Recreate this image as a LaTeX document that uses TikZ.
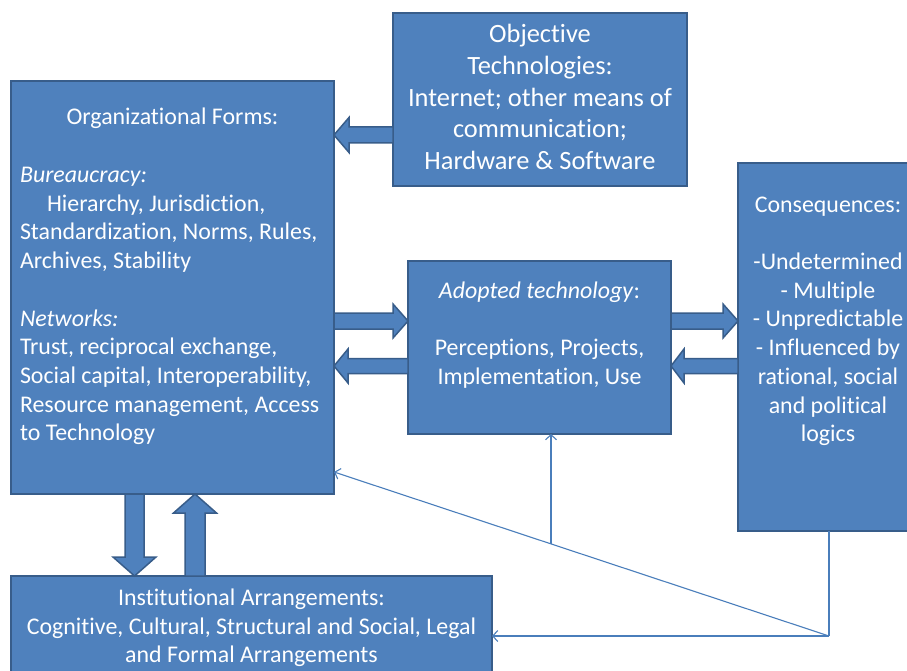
\documentclass[tikz,border=0pt]{standalone}
\usepackage{fontspec}
\setmainfont{Carlito}[Ligatures=NoCommon]
\usetikzlibrary{calc,arrows.meta}
\definecolor{boxfill}{HTML}{4F81BD}
\definecolor{boxline}{HTML}{385D8A}
\definecolor{thinline}{HTML}{4A7EBB}
\tikzset{
  box/.style={draw=boxline, fill=boxfill, line width=1.8bp, anchor=north west, inner sep=0pt, outer sep=0pt},
  txt/.style={text=white, inner sep=0pt, outer sep=0pt, font=\fontsize{23.9bp}{28.7bp}\selectfont},
  bigtxt/.style={text=white, inner sep=0pt, outer sep=0pt, font=\fontsize{26.4bp}{31.7bp}\selectfont},
  blk/.style={draw=boxline, fill=boxfill, line width=1.5bp, line join=miter},
  thin/.style={draw=thinline, line width=1.1bp},
  tip/.style={-{Straight Barb[length=5bp,width=11bp]}}
}
\newcommand\blkarrow[5]{%
  \coordinate (hb) at ($(#2)!#5!(#1)$);
  \draw[blk] ($(#1)!#3!90:(#2)$) -- ($(hb)!#3!90:(#2)$) -- ($(hb)!#4!90:(#2)$) -- (#2)
    -- ($(hb)!#4!-90:(#2)$) -- ($(hb)!#3!-90:(#2)$) -- ($(#1)!#3!-90:(#2)$) -- cycle;
}
\begin{document}
\begin{tikzpicture}[x=1bp,y=-1bp]
\useasboundingbox (0,0) rectangle (907,671);
\clip (0,0) rectangle (907,671);
\fill[white] (0,0) rectangle (907,671);

% boxes
\node[box, minimum width=323bp, minimum height=413bp] (org) at (11,81) {};
\node[box, minimum width=294bp, minimum height=173bp] (obj) at (393,13) {};
\node[box, minimum width=263bp, minimum height=173bp] (adopt) at (408,261) {};
\node[box, minimum width=180bp, minimum height=368bp] (cons) at (738,163) {};
\node[box, minimum width=481bp, minimum height=120bp] (inst) at (11,576) {};

% Organizational Forms text
\node[txt, anchor=base] (orgT) at (172.5,124.2) {Organizational Forms:};
\node[txt, anchor=base west] (orgB1) at (20,182.5) {\textit{Bureaucracy:}};
\node[txt, anchor=base west] (orgB2) at (47,211.2) {Hierarchy, Jurisdiction,};
\node[txt, anchor=base west] (orgB3) at (20,239.9) {Standardization, Norms, Rules,};
\node[txt, anchor=base west] (orgB4) at (20,268.6) {Archives, Stability};
\node[txt, anchor=base west] (orgN1) at (20,326) {\textit{Networks:}};
\node[txt, anchor=base west] (orgN2) at (20,354.7) {Trust, reciprocal exchange,};
\node[txt, anchor=base west] (orgN3) at (20,383.4) {Social capital, Interoperability,};
\node[txt, anchor=base west] (orgN4) at (20,412.1) {Resource management, Access};
\node[txt, anchor=base west] (orgN5) at (20,440.8) {to Technology};

% Objective Technologies text
\node[bigtxt, anchor=base] (obj1) at (540,42.8) {Objective};
\node[bigtxt, anchor=base] (obj2) at (540,74.5) {Technologies:};
\node[bigtxt, anchor=base] (obj3) at (540,106.2) {Internet; other means of};
\node[bigtxt, anchor=base] (obj4) at (540,137.9) {communication;};
\node[bigtxt, anchor=base] (obj5) at (540,169.6) {Hardware \& Software};

% Adopted technology text
\node[txt, anchor=base] (ad1) at (539.5,298.2) {\textit{Adopted technology}:};
\node[txt, anchor=base] (ad2) at (539.5,355.6) {Perceptions, Projects,};
\node[txt, anchor=base] (ad3) at (539.5,384.3) {Implementation, Use};

% Consequences text
\node[txt, anchor=base] (co1) at (828,212.1) {Consequences:};
\node[txt, anchor=base] (co2) at (828,269.5) {-Undetermined};
\node[txt, anchor=base] (co3) at (828,298.2) {- Multiple};
\node[txt, anchor=base] (co4) at (828,326.9) {- Unpredictable};
\node[txt, anchor=base] (co5) at (828,355.6) {- Influenced by};
\node[txt, anchor=base] (co6) at (828,384.3) {rational, social};
\node[txt, anchor=base] (co7) at (828,413) {and political};
\node[txt, anchor=base] (co8) at (828,441.7) {logics};

% Institutional text
\node[txt, anchor=base] (in1) at (251.5,605.5) {Institutional Arrangements:};
\node[txt, anchor=base] (in2) at (251.5,634.2) {Cognitive, Cultural, Structural and Social, Legal};
\node[txt, anchor=base] (in3) at (251.5,662.5) {and Formal Arrangements};

% block arrows
\coordinate (a1s) at (obj.west |- 0,135);
\coordinate (a1e) at (org.east |- 0,135);
\blkarrow{a1s}{a1e}{8bp}{17.5bp}{15bp}
\coordinate (a2s) at (org.east |- 0,321);
\coordinate (a2e) at (adopt.west |- 0,321);
\blkarrow{a2s}{a2e}{8bp}{17bp}{15bp}
\coordinate (a3s) at (adopt.west |- 0,366);
\coordinate (a3e) at (org.east |- 0,366);
\blkarrow{a3s}{a3e}{7.5bp}{17bp}{14bp}
\coordinate (a4s) at (adopt.east |- 0,321);
\coordinate (a4e) at (cons.west |- 0,321);
\blkarrow{a4s}{a4e}{8bp}{17bp}{15bp}
\coordinate (a5s) at (cons.west |- 0,366);
\coordinate (a5e) at (adopt.east |- 0,366);
\blkarrow{a5s}{a5e}{7.5bp}{17bp}{13bp}
\coordinate (a6s) at (org.south -| 134.5,0);
\coordinate (a6e) at (inst.north -| 134.5,0);
\blkarrow{a6s}{a6e}{9.5bp}{21.5bp}{19bp}
\coordinate (a7s) at (inst.north -| 195,0);
\coordinate (a7e) at (org.south -| 195,0);
\blkarrow{a7s}{a7e}{10bp}{21.5bp}{19bp}

% thin feedback connectors
\coordinate (cb) at (cons.south -| 829,0);
\coordinate (corner) at (829,636);
\coordinate (orgpt) at (org.east |- 0,472);
\coordinate (instpt) at (inst.east |- corner);
\coordinate (mid) at ($(corner)!0.5616!(orgpt)$);
\draw[thin] (cb) -- (corner);
\draw[thin, tip] (corner) -- (instpt);
\draw[thin, tip] (corner) -- (orgpt);
\draw[thin, tip] (mid) -- (mid |- adopt.south);
\end{tikzpicture}
\end{document}
